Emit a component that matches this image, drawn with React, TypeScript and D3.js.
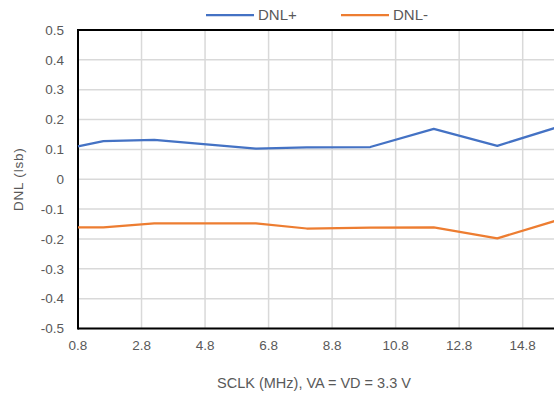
import { useEffect, useRef } from "react";
import * as d3 from "d3";

// SCLK frequencies (MHz) and measured DNL
const sclk = [0.8, 1.6, 3.2, 6.4, 8, 10, 12, 14, 16];
const dnlPlus = [0.11, 0.128, 0.132, 0.103, 0.107, 0.108, 0.169, 0.112, 0.178];
const dnlMinus = [-0.161, -0.161, -0.148, -0.148, -0.165, -0.162, -0.161, -0.198, -0.134];
const xTicks = [0.8, 2.8, 4.8, 6.8, 8.8, 10.8, 12.8, 14.8];
const yTicks = [0.5, 0.4, 0.3, 0.2, 0.1, 0, -0.1, -0.2, -0.3, -0.4, -0.5];
const seriesNames = ["DNL+", "DNL-"];

const W = 554;
const H = 396;
const FONT = "'Liberation Sans', Arial, sans-serif";
const TEXT = "#595959";

export default function App() {
  const ref = useRef<SVGSVGElement>(null);

  useEffect(() => {
    const svg = d3.select(ref.current);
    svg.selectAll("*").remove();

    const left = 78;
    const top = 30;
    const bottom = 328.5;

    // 14.8 lands at ~522.7, the right side runs past the window
    const x = d3.scaleLinear().domain([0.8, 14.8]).range([left, 522.7]);
    const y = d3.scaleLinear().domain([-0.5, 0.5]).range([bottom, top]);
    const xMax = 16.8;

    // grid
    const grid = svg.append("g").attr("stroke", "#d9d9d9").attr("stroke-width", 1.5);
    yTicks.forEach((t) => {
      grid.append("line")
        .attr("x1", left).attr("x2", x(xMax))
        .attr("y1", y(t)).attr("y2", y(t));
    });
    xTicks.slice(1).forEach((t) => {
      grid.append("line")
        .attr("x1", x(t)).attr("x2", x(t))
        .attr("y1", top).attr("y2", bottom);
    });

    // frame lines (top, left, bottom)
    const frame = svg.append("g").attr("stroke", "#000").attr("stroke-width", 2);
    frame.append("line").attr("x1", left).attr("x2", x(xMax)).attr("y1", top).attr("y2", top);
    frame.append("line").attr("x1", left).attr("x2", x(xMax)).attr("y1", bottom).attr("y2", bottom);
    frame.append("line").attr("x1", left).attr("x2", left).attr("y1", top - 1).attr("y2", bottom + 1);

    // tick labels
    svg.append("g").selectAll("text").data(yTicks).join("text")
      .attr("x", 64).attr("y", (d) => y(d))
      .attr("dy", "0.35em")
      .attr("text-anchor", "end")
      .attr("font-family", FONT).attr("font-size", 13.5).attr("fill", TEXT)
      .text((d) => (d === 0 ? "0" : d.toFixed(1)));

    svg.append("g").selectAll("text").data(xTicks).join("text")
      .attr("x", (d) => x(d)).attr("y", 345)
      .attr("dy", "0.35em")
      .attr("text-anchor", "middle")
      .attr("font-family", FONT).attr("font-size", 13.5).attr("fill", TEXT)
      .text((d) => d.toFixed(1));

    // series
    const colors = ["#4472c4", "#ed7d31"];
    const line = d3.line<[number, number]>().x((d) => x(d[0])).y((d) => y(d[1]));
    [dnlPlus, dnlMinus].forEach((vals, i) => {
      svg.append("path")
        .attr("d", line(sclk.map((s, j) => [s, vals[j]] as [number, number])))
        .attr("fill", "none")
        .attr("stroke", colors[i])
        .attr("stroke-width", 2.25)
        .attr("stroke-linejoin", "round");
    });

    // legend
    const legendX = [206, 341];
    seriesNames.forEach((name, i) => {
      const g = svg.append("g");
      g.append("line")
        .attr("x1", legendX[i]).attr("x2", legendX[i] + 48)
        .attr("y1", 15).attr("y2", 15)
        .attr("stroke", colors[i]).attr("stroke-width", 2.25);
      g.append("text")
        .attr("x", legendX[i] + 52).attr("y", 15).attr("dy", "0.35em")
        .attr("font-family", FONT).attr("font-size", 15).attr("fill", TEXT)
        .text(name);
    });

    // axis titles
    svg.append("text")
      .attr("transform", `translate(18, ${(top + bottom) / 2}) rotate(-90)`)
      .attr("text-anchor", "middle").attr("dy", "0.35em")
      .attr("font-family", FONT).attr("font-size", 13.5).attr("fill", TEXT)
      .attr("letter-spacing", 0.8)
      .text("DNL (lsb)");

    svg.append("text")
      .attr("x", 314).attr("y", 383).attr("dy", "0.35em")
      .attr("text-anchor", "middle")
      .attr("font-family", FONT).attr("font-size", 14.5).attr("fill", TEXT)
      .text("SCLK (MHz), VA = VD = 3.3 V");
  }, []);

  return (
    <svg
      ref={ref}
      width={W}
      height={H}
      style={{ position: "absolute", left: 0, top: 0, background: "#fff" }}
    />
  );
}
